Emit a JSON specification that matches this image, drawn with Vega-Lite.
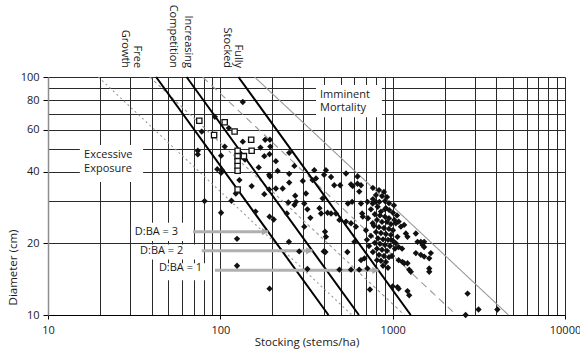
{
  "$schema": "https://vega.github.io/schema/vega-lite/v6.json",
  "width": 517,
  "height": 238,
  "autosize": {"type": "none"},
  "padding": {"left": 48, "top": 77, "right": 15, "bottom": 36},
  "background": "white",
  "config": {
    "view": {"stroke": null},
    "font": "Open Sans",
    "text": {"font": "Open Sans", "fontSize": 11, "color": "#1a1a1a"}
  },
  "datasets": {
    "ratioLines": [
      {"id": "r1", "N": 127.3, "D": 100}, {"id": "r1", "N": 1273, "D": 10},
      {"id": "r2", "N": 63.7, "D": 100}, {"id": "r2", "N": 637, "D": 10},
      {"id": "r3", "N": 42.4, "D": 100}, {"id": "r3", "N": 424, "D": 10}
    ],
    "zoneLines": [
      {"id": "g1", "N": 19.6, "D": 100}, {"id": "g1", "N": 580, "D": 10},
      {"id": "g2", "N": 39, "D": 100}, {"id": "g2", "N": 1170, "D": 10},
      {"id": "g3", "N": 79, "D": 100}, {"id": "g3", "N": 2340, "D": 10},
      {"id": "im", "N": 158, "D": 100}, {"id": "im", "N": 4700, "D": 10}
    ],
    "boxes": [
      {"N": 15.3, "N2": 35.6, "D": 36.2, "D2": 51.8},
      {"N": 359, "N2": 866, "D": 67.8, "D2": 92.5},
      {"N": 30.3, "N2": 66.9, "D": 20.45, "D2": 24.4},
      {"N": 32.4, "N2": 73.1, "D": 17.1, "D2": 19.8},
      {"N": 41.7, "N2": 88.6, "D": 14.0, "D2": 16.5}
    ],
    "arrows": [
      {"N": 69.4, "N2": 189.5, "D": 22.4},
      {"N": 78, "N2": 342, "D": 18.6},
      {"N": 93, "N2": 827, "D": 15.4}
    ],
    "zoneNotes": [
      {"text": "Excessive\nExposure", "N": 16.2, "D": 47.0},
      {"text": "Imminent\nMortality", "N": 379, "D": 84.2}
    ],
    "labels": [
      {"text": "D:BA = 3", "N": 31.9, "D": 22.3},
      {"text": "D:BA = 2", "N": 34.2, "D": 18.5},
      {"text": "D:BA = 1", "N": 44.0, "D": 15.7}
    ],
    "topLabels": [
      {"text": "Free", "N": 32.8, "D": 109},
      {"text": "Growth", "N": 28.0, "D": 109},
      {"text": "Increasing", "N": 65.2, "D": 109},
      {"text": "Competition", "N": 53.2, "D": 109},
      {"text": "Fully", "N": 126.7, "D": 109},
      {"text": "Stocked", "N": 109.4, "D": 109}
    ],
    "squares": [
      {"N": 75.5, "D": 65.5}, {"N": 92, "D": 57}, {"N": 106, "D": 64.5}, {"N": 121, "D": 59},
      {"N": 151, "D": 54.5}, {"N": 152, "D": 49}, {"N": 126, "D": 49}, {"N": 126, "D": 46.4},
      {"N": 126, "D": 44.3}, {"N": 126, "D": 42.3}, {"N": 126, "D": 40.4}, {"N": 137, "D": 46.5},
      {"N": 126, "D": 33.7}
    ],
    "diamonds": [
      {"N": 135, "D": 78.5}, {"N": 93, "D": 68}, {"N": 112, "D": 61}, {"N": 78, "D": 59},
      {"N": 106, "D": 51}, {"N": 135, "D": 53.5}, {"N": 182, "D": 54.5}, {"N": 194, "D": 54.5},
      {"N": 171, "D": 50.5}, {"N": 195, "D": 51}, {"N": 251, "D": 48}, {"N": 74, "D": 49},
      {"N": 74, "D": 47.3}, {"N": 101, "D": 46.7}, {"N": 139, "D": 45}, {"N": 180, "D": 46.5},
      {"N": 193, "D": 47.4}, {"N": 210, "D": 44.3}, {"N": 269, "D": 42.3}, {"N": 96, "D": 41},
      {"N": 101, "D": 39.6}, {"N": 102, "D": 40.6}, {"N": 167, "D": 41.7}, {"N": 192, "D": 38.8},
      {"N": 194, "D": 38.2}, {"N": 251, "D": 39.2}, {"N": 129, "D": 36.9}, {"N": 215, "D": 40.3},
      {"N": 152, "D": 34.8}, {"N": 123, "D": 32.4}, {"N": 180, "D": 32.2}, {"N": 192, "D": 33.7},
      {"N": 210, "D": 34}, {"N": 230, "D": 34}, {"N": 251, "D": 36}, {"N": 81, "D": 30.1},
      {"N": 116, "D": 30.2}, {"N": 101, "D": 26.9}, {"N": 125, "D": 20.9}, {"N": 125, "D": 16.1},
      {"N": 193, "D": 12.9}, {"N": 160, "D": 27.2}, {"N": 193, "D": 25.9}, {"N": 204, "D": 25.2},
      {"N": 248, "D": 29.7}, {"N": 272, "D": 31.7}, {"N": 269, "D": 29}, {"N": 243, "D": 26.7},
      {"N": 250, "D": 20.3}, {"N": 287, "D": 18.5}, {"N": 307, "D": 23.5}, {"N": 320, "D": 15.6},
      {"N": 398, "D": 18.5}, {"N": 407, "D": 18.4}, {"N": 405, "D": 22.4}, {"N": 410, "D": 21.3},
      {"N": 301, "D": 36.6}, {"N": 314, "D": 32.4}, {"N": 343, "D": 36.9}, {"N": 359, "D": 37.5},
      {"N": 400, "D": 38.8}, {"N": 410, "D": 40.6}, {"N": 275, "D": 29.9}, {"N": 307, "D": 29.4},
      {"N": 320, "D": 27.8}, {"N": 376, "D": 28.1}, {"N": 384, "D": 26.7}, {"N": 439, "D": 38},
      {"N": 536, "D": 39.3}, {"N": 458, "D": 35.1}, {"N": 496, "D": 35.1}, {"N": 573, "D": 35.4},
      {"N": 586, "D": 34.8}, {"N": 625, "D": 35.6}, {"N": 655, "D": 35.1}, {"N": 640, "D": 33},
      {"N": 351, "D": 40.6}, {"N": 625, "D": 38.2}, {"N": 392, "D": 30.9}, {"N": 333, "D": 25.6},
      {"N": 419, "D": 26.9}, {"N": 439, "D": 26.7}, {"N": 491, "D": 25.1}, {"N": 469, "D": 26.7},
      {"N": 550, "D": 29.4}, {"N": 582, "D": 29.9}, {"N": 655, "D": 29.4}, {"N": 714, "D": 29.9},
      {"N": 766, "D": 29.4}, {"N": 800, "D": 29.9}, {"N": 837, "D": 29.9}, {"N": 818, "D": 28.5},
      {"N": 855, "D": 27.2}, {"N": 914, "D": 28.1}, {"N": 955, "D": 27.6}, {"N": 665, "D": 26.7},
      {"N": 671, "D": 25.9}, {"N": 536, "D": 24.7}, {"N": 573, "D": 24.3}, {"N": 612, "D": 23.5},
      {"N": 766, "D": 24.3}, {"N": 1022, "D": 25.1}, {"N": 1044, "D": 24.3}, {"N": 1083, "D": 24.7},
      {"N": 1116, "D": 23.5}, {"N": 1166, "D": 23.9}, {"N": 1193, "D": 22.0}, {"N": 1219, "D": 21.3},
      {"N": 1363, "D": 22.0}, {"N": 1394, "D": 20.3}, {"N": 1457, "D": 20.3}, {"N": 1523, "D": 20.3},
      {"N": 1490, "D": 19.7}, {"N": 1523, "D": 19.3}, {"N": 1066, "D": 21.3}, {"N": 1083, "D": 19.3},
      {"N": 1134, "D": 19.0}, {"N": 977, "D": 20.7}, {"N": 1044, "D": 20.0}, {"N": 1083, "D": 17.0},
      {"N": 1140, "D": 16.7}, {"N": 1166, "D": 16.5}, {"N": 1247, "D": 15.5}, {"N": 1630, "D": 15.7},
      {"N": 1630, "D": 15.2}, {"N": 1066, "D": 13.1}, {"N": 1083, "D": 12.9}, {"N": 738, "D": 12.8},
      {"N": 2720, "D": 12.3}, {"N": 3150, "D": 10.55}, {"N": 4050, "D": 10.55}, {"N": 2650, "D": 10.0},
      {"N": 491, "D": 15.5}, {"N": 546, "D": 18.4}, {"N": 573, "D": 15.5}, {"N": 640, "D": 15.5},
      {"N": 655, "D": 17.0}, {"N": 600, "D": 20.3}, {"N": 686, "D": 17.3}, {"N": 714, "D": 15.7},
      {"N": 1000, "D": 13.2}, {"N": 1219, "D": 12.6}, {"N": 1247, "D": 12.1}, {"N": 1219, "D": 16.5},
      {"N": 1665, "D": 18.2}, {"N": 1630, "D": 17.3}, {"N": 1363, "D": 18.2}, {"N": 1457, "D": 17.9},
      {"N": 1523, "D": 17.6}, {"N": 1275, "D": 15.2},
      {"N": 768, "D": 34.2}, {"N": 833, "D": 33.5}, {"N": 890, "D": 32.9}, {"N": 800, "D": 31.9},
      {"N": 867, "D": 31.6}, {"N": 927, "D": 31.3}, {"N": 768, "D": 30.7}, {"N": 902, "D": 30.1},
      {"N": 788, "D": 26.5}, {"N": 844, "D": 26.2}, {"N": 902, "D": 25.9}, {"N": 952, "D": 25.5},
      {"N": 811, "D": 25.1}, {"N": 867, "D": 24.6}, {"N": 927, "D": 24.6}, {"N": 977, "D": 24.1},
      {"N": 778, "D": 23.7}, {"N": 833, "D": 23.4}, {"N": 890, "D": 23.2}, {"N": 952, "D": 23.0},
      {"N": 1004, "D": 22.7}, {"N": 800, "D": 22.3}, {"N": 855, "D": 22.1}, {"N": 914, "D": 21.9},
      {"N": 977, "D": 21.7}, {"N": 822, "D": 21.0}, {"N": 879, "D": 20.8}, {"N": 939, "D": 20.7},
      {"N": 1004, "D": 20.5}, {"N": 788, "D": 20.1}, {"N": 844, "D": 19.9}, {"N": 902, "D": 19.7},
      {"N": 965, "D": 19.5}, {"N": 811, "D": 19.0}, {"N": 867, "D": 18.8}, {"N": 927, "D": 18.6},
      {"N": 833, "D": 17.9}, {"N": 890, "D": 17.7}, {"N": 952, "D": 17.5}, {"N": 855, "D": 16.9},
      {"N": 914, "D": 16.7}, {"N": 879, "D": 16.1}, {"N": 939, "D": 15.8}, {"N": 748, "D": 21.5},
      {"N": 729, "D": 19.5}, {"N": 768, "D": 18.4}, {"N": 1031, "D": 19.0}, {"N": 991, "D": 17.7},
      {"N": 811, "D": 17.0}, {"N": 700, "D": 22.7}, {"N": 719, "D": 25.5}, {"N": 1004, "D": 26.9},
      {"N": 1059, "D": 26.2}, {"N": 748, "D": 27.8}, {"N": 709, "D": 20.7}, {"N": 902, "D": 27.8},
      {"N": 1018, "D": 28.9}, {"N": 952, "D": 29.5}
    ]
  },
  "encoding": {
    "x": {
      "field": "N",
      "type": "quantitative",
      "scale": {"type": "log", "domain": [10, 10000], "nice": false},
      "axis": {
        "title": "Stocking (stems/ha)",
        "values": [10, 20, 30, 40, 50, 60, 70, 80, 90, 100, 200, 300, 400, 500, 600, 700, 800, 900, 1000, 2000, 3000, 4000, 5000, 6000, 7000, 8000, 9000, 10000],
        "labelExpr": "indexof([10, 100, 1000, 10000], datum.value) >= 0 ? '' + datum.value : ''",
        "labelOverlap": false,
        "labelFlush": false,
        "labelBound": false,
        "grid": true,
        "gridColor": "#2a2a2a",
        "gridWidth": 1,
        "gridOpacity": {"condition": {"test": "datum.value == 10", "value": 0}, "value": 1},
        "tickColor": "#000",
        "tickSize": 4,
        "tickOpacity": {"condition": {"test": "indexof([10, 100, 1000, 10000], datum.value) >= 0", "value": 1}, "value": 0},
        "domainColor": "#000",
        "labelFontSize": 11,
        "labelColor": "#1a1a1a",
        "labelPadding": 5,
        "titleFontSize": 11.5,
        "titleFontWeight": "normal",
        "titleColor": "#1a1a1a",
        "titlePadding": 1
      }
    },
    "y": {
      "field": "D",
      "type": "quantitative",
      "scale": {"type": "log", "domain": [10, 100], "nice": false},
      "axis": {
        "title": "Diameter (cm)",
        "values": [10, 20, 30, 40, 50, 60, 70, 80, 90, 100],
        "labelExpr": "indexof([10, 20, 40, 60, 80, 100], datum.value) >= 0 ? '' + datum.value : ''",
        "labelOverlap": false,
        "labelFlush": false,
        "grid": true,
        "gridColor": "#2a2a2a",
        "gridWidth": 1,
        "tickColor": "#000",
        "tickSize": 5,
        "tickOpacity": {"condition": {"test": "indexof([10, 20, 40, 60, 80, 100], datum.value) >= 0", "value": 1}, "value": 0},
        "domainColor": "#8c8c8c",
        "domainWidth": 1.5,
        "labelFontSize": 11,
        "labelColor": "#1a1a1a",
        "labelPadding": 4,
        "titleFontSize": 11.5,
        "titleFontWeight": "normal",
        "titleColor": "#1a1a1a",
        "titleAngle": -90,
        "titleX": -35,
        "titleY": 190,
        "titleAlign": "center",
        "titleBaseline": "middle"
      }
    }
  },
  "layer": [
    {
      "data": {"name": "boxes"},
      "mark": {"type": "rect", "fill": "white", "strokeWidth": 0},
      "encoding": {"x2": {"field": "N2"}, "y2": {"field": "D2"}}
    },
    {
      "data": {"name": "zoneLines"},
      "mark": {"type": "line", "color": "#9a9a9a", "strokeWidth": 1.1},
      "encoding": {
        "detail": {"field": "id", "type": "nominal"},
        "strokeDash": {
          "field": "id",
          "type": "nominal",
          "scale": {"domain": ["g1", "g2", "g3", "im"], "range": [[2, 3], [3, 3], [7, 5], [1, 0]]},
          "legend": null
        }
      }
    },
    {
      "data": {"name": "ratioLines"},
      "mark": {"type": "line", "color": "#000", "strokeWidth": 2},
      "encoding": {"detail": {"field": "id", "type": "nominal"}}
    },
    {
      "data": {"name": "arrows"},
      "mark": {"type": "rule", "color": "#b0b0b0", "strokeWidth": 3},
      "encoding": {"x2": {"field": "N2"}}
    },
    {
      "data": {"name": "arrows"},
      "mark": {"type": "point", "shape": "triangle-right", "filled": true, "color": "#a8a8a8", "size": 55, "opacity": 1, "xOffset": -3},
      "encoding": {"x": {"field": "N2", "type": "quantitative"}}
    },
    {
      "data": {"name": "zoneNotes"},
      "mark": {"type": "text", "align": "left", "baseline": "middle", "fontSize": 11, "lineBreak": "\n", "lineHeight": 13.5},
      "encoding": {"text": {"field": "text"}}
    },
    {
      "data": {"name": "labels"},
      "mark": {"type": "text", "align": "left", "baseline": "middle", "fontSize": 11},
      "encoding": {"text": {"field": "text"}}
    },
    {
      "data": {"name": "topLabels"},
      "mark": {"type": "text", "align": "right", "baseline": "middle", "angle": 90, "fontSize": 11},
      "encoding": {"text": {"field": "text"}}
    },
    {
      "data": {"name": "diamonds"},
      "mark": {"type": "point", "shape": "diamond", "filled": true, "color": "#111", "size": 40, "opacity": 1}
    },
    {
      "data": {"name": "squares"},
      "mark": {"type": "point", "shape": "square", "filled": true, "fill": "white", "stroke": "#111", "strokeWidth": 1.3, "size": 28, "opacity": 1}
    }
  ]
}
